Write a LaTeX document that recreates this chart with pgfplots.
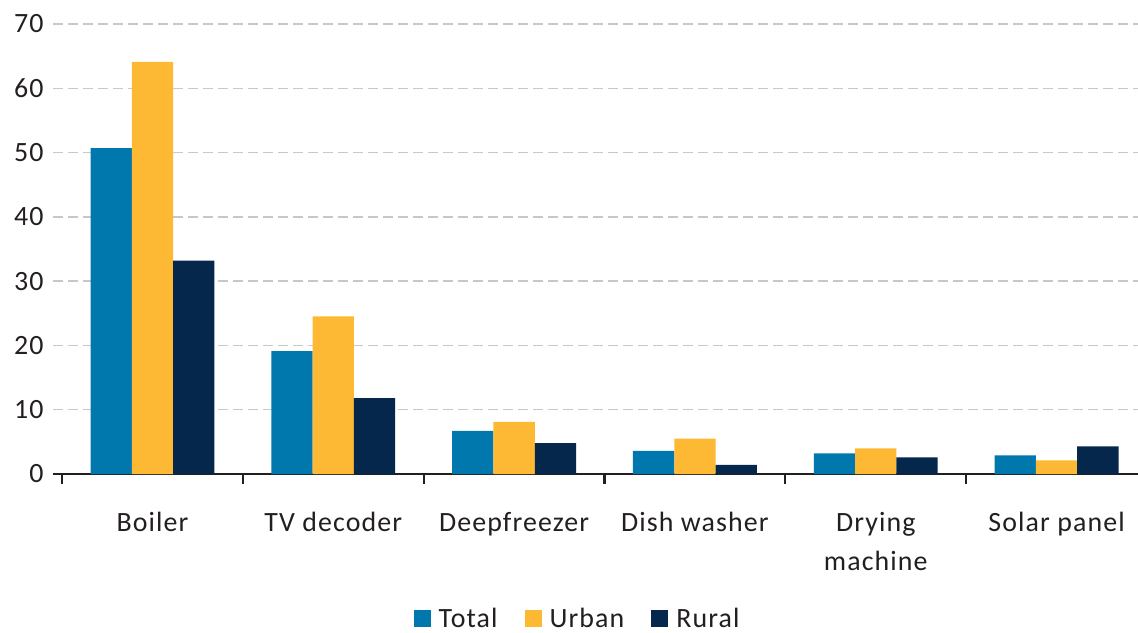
\documentclass[border=0pt]{standalone}
\usepackage{pgfplots}
\pgfplotsset{compat=1.18}
\usepackage{fontspec}
\setmainfont{Carlito}[LetterSpace=4]
\definecolor{cTotal}{HTML}{0078AD}
\definecolor{cUrban}{HTML}{FDB933}
\definecolor{cRural}{HTML}{05274C}
\definecolor{cText}{HTML}{231F20}
\definecolor{cGrid}{HTML}{C8C8C8}
\begin{document}
\begin{tikzpicture}
\path[use as bounding box] (0,0) rectangle (1138bp,633bp);
\begin{axis}[
  at={(53bp,159bp)}, anchor=south west,
  scale only axis, width=1085bp, height=450bp,
  ybar=0pt, bar width=41.3bp,
  xmin=-0.55, xmax=5.45, ymin=0, ymax=70,
  ytick={0,10,...,70},
  xtick={0,1,2,3,4,5},
  xticklabels={Boiler,TV decoder,Deepfreezer,Dish washer,{Drying\\machine},Solar panel},
  xticklabel style={align=center, yshift=-35bp},
  minor xtick={-0.5,0.5,1.5,2.5,3.5,4.5},
  major tick length=0pt,
  minor tick length=10bp,
  tick align=outside,
  every minor tick/.style={cText, line width=2.2bp},
  axis x line*=bottom,
  axis y line*=left,
  y axis line style={draw=none},
  x axis line style={cText, line width=2bp, -},
  ymajorgrids,
  grid style={cGrid, line width=1.4bp, dash pattern=on 10bp off 5bp},
  ticklabel style={font=\fontsize{28}{39}\selectfont, text=cText},
  /pgf/number format/assume math mode=true,
  yticklabel style={anchor=east, xshift=-6bp},
  legend style={at={(0.483,-0.32)}, anchor=center, draw=none, legend columns=3,
    font=\fontsize{28}{30}\selectfont, text=cText, inner sep=1bp,
    nodes={text depth=0pt, inner sep=1bp},
    /tikz/every odd column/.append style={column sep=7bp},
    /tikz/every even column/.append style={column sep=26bp}},
  legend cell align=left,
  legend image code/.code={\fill[#1] (0bp,-8.5bp) rectangle (17bp,8.5bp);},
  clip=false,
]
\addplot[fill=cTotal, draw=none] coordinates {(0,50.7) (1,19.1) (2,6.7) (3,3.6) (4,3.2) (5,2.9)};
\addplot[fill=cUrban, draw=none] coordinates {(0,64.1) (1,24.5) (2,8.1) (3,5.5) (4,4.0) (5,2.1)};
\addplot[fill=cRural, draw=none] coordinates {(0,33.2) (1,11.8) (2,4.8) (3,1.4) (4,2.6) (5,4.3)};
\legend{Total,Urban,Rural}
\end{axis}
\end{tikzpicture}
\end{document}
